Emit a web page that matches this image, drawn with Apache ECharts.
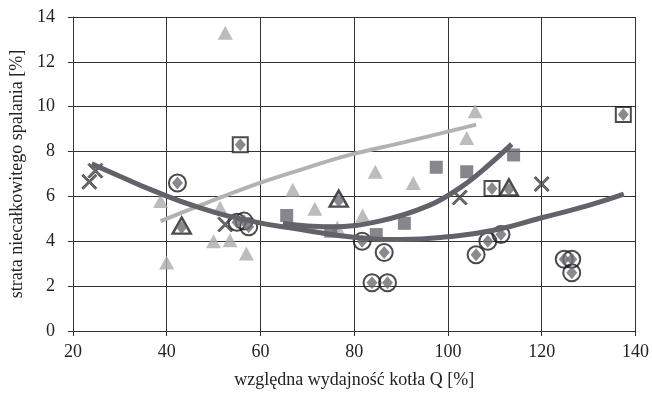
<!DOCTYPE html>
<html><head><meta charset="utf-8">
<script src="https://cdn.jsdelivr.net/npm/echarts@6/dist/echarts.min.js"></script>
<style>html,body{margin:0;padding:0;background:#fff}#c{width:652px;height:394px}</style>
</head><body><div id="c"></div>
<script>
// axis ticks
const xTicks = [20, 40, 60, 80, 100, 120, 140];
const yTicks = [0, 2, 4, 6, 8, 10, 12, 14];
// light grey triangles
const triLight = [[38.7,5.8],[40,3.05],[50,4.0],[51.4,5.5],[52.5,13.3],[53.5,4.05],[57,3.45],[66.9,6.3],[71.6,5.45],[76.4,4.6],[81.8,5.15],[84.5,7.1],[92.6,6.6],[104,8.6],[105.8,9.8]];
// dark grey squares
const squares = [[65.6,5.15],[75,4.45],[84.7,4.3],[90.7,4.8],[97.5,7.3],[104,7.1],[114,7.85]];
// circles with diamond
const circleDiamond = [[42.3,6.6],[55,4.85],[56.5,4.9],[57.5,4.65],[81.7,4.0],[83.8,2.15],[86.4,3.5],[87.1,2.15],[106,3.4],[108.5,4.0],[111.3,4.3],[124.8,3.2],[126.4,3.2],[126.4,2.6]];
// squares (outline) with diamond
const squareDiamond = [[55.7,8.3],[109.4,6.35],[137.4,9.65]];
// triangles (outline) with diamond
const triDiamond = [[43.2,4.7],[76.7,5.9],[113,6.4]];
// x marks
const xMarks = [[23.5,6.65],[24.8,7.15],[52.5,4.75],[102.5,5.95],[120,6.55]];
// trend lines
const mainCurve = [[24,7.45],[30,6.9],[36.6,6.3],[47,5.5],[58,4.9],[68,4.55],[80,4.18],[90,4.08],[100,4.2],[110,4.5],[120,5.05],[130,5.6],[137.5,6.1]];
const squareCurve = [[64.8,4.8],[70,4.68],[75,4.65],[85.4,4.9],[96,5.6],[103,6.45],[108.7,7.4],[113.6,8.33]];
const lightCurve = [[38.7,4.9],[47.2,5.6],[57.8,6.45],[68,7.15],[79,7.85],[90.3,8.4],[106,9.2]];

const FONT = '"Liberation Serif", "DejaVu Serif", serif';
const xPath = 'path://M1,0 L5,4 L9,0 L10,1 L6,5 L10,9 L9,10 L5,6 L1,10 L0,9 L4,5 L0,1 Z';
const diamondS = {symbol:'diamond', symbolSize:[11,13], itemStyle:{color:'#6b6b73'}};

const chart = echarts.init(document.getElementById('c'), null, {renderer:'canvas'});
chart.setOption({
  animation:false,
  backgroundColor:'#ffffff',
  grid:{left:72,right:15,top:17,bottom:61},
  xAxis:{type:'value',min:xTicks[0],max:xTicks[xTicks.length-1],interval:xTicks[1]-xTicks[0],
    name:'względna wydajność kotła Q [%]',nameLocation:'middle',nameGap:40,
    nameTextStyle:{fontFamily:FONT,fontSize:18,color:'#222'},
    axisLine:{show:true,lineStyle:{color:'#333',width:1}},
    axisTick:{show:true,length:5,inside:false,lineStyle:{color:'#333'}},
    axisLabel:{fontFamily:FONT,fontSize:18,color:'#222',margin:12},
    splitLine:{show:true,lineStyle:{color:'#333',width:1}}},
  yAxis:{type:'value',min:yTicks[0],max:yTicks[yTicks.length-1],interval:yTicks[1]-yTicks[0],
    name:'strata niecałkowitego spalania [%]',nameLocation:'middle',nameGap:41,
    nameTextStyle:{fontFamily:FONT,fontSize:18,color:'#222'},
    axisLine:{show:true,lineStyle:{color:'#333',width:1}},
    axisTick:{show:true,length:5,inside:false,lineStyle:{color:'#333'}},
    axisLabel:{fontFamily:FONT,fontSize:18,color:'#222',margin:18},
    splitLine:{show:true,lineStyle:{color:'#333',width:1}}},
  series:[
    {type:'scatter',data:triLight,symbol:'triangle',symbolSize:[15,14],itemStyle:{color:'#ababab'}},
    {type:'scatter',data:squares,symbol:'rect',symbolSize:13,itemStyle:{color:'#68686f'}},
    {type:'line',data:lightCurve,smooth:0.4,showSymbol:false,lineStyle:{color:'#b2b2b2',width:4}},
    {type:'line',data:squareCurve,smooth:0.4,showSymbol:false,lineStyle:{color:'#636169',width:5}},
    {type:'line',data:mainCurve,smooth:0.5,showSymbol:false,lineStyle:{color:'#636169',width:5}},
    {type:'scatter',data:circleDiamond,symbol:'circle',symbolSize:17,itemStyle:{color:'rgba(0,0,0,0)',borderColor:'#1e1e1e',borderWidth:2}},
    Object.assign({type:'scatter',data:circleDiamond},diamondS),
    {type:'scatter',data:squareDiamond,symbol:'rect',symbolSize:15,itemStyle:{color:'#ffffff',borderColor:'#1e1e1e',borderWidth:2}},
    Object.assign({type:'scatter',data:squareDiamond},diamondS),
    {type:'scatter',data:triDiamond,symbol:'triangle',symbolSize:[18,16],itemStyle:{color:'#ffffff',borderColor:'#1e1e1e',borderWidth:2.5}},
    Object.assign({type:'scatter',data:triDiamond,symbolOffset:[0,2]},diamondS),
    {type:'scatter',data:xMarks,symbol:xPath,symbolSize:15,itemStyle:{color:'#4a4a4a',borderColor:'#1a1a1a',borderWidth:0.8}}
  ]
});
</script></body></html>
